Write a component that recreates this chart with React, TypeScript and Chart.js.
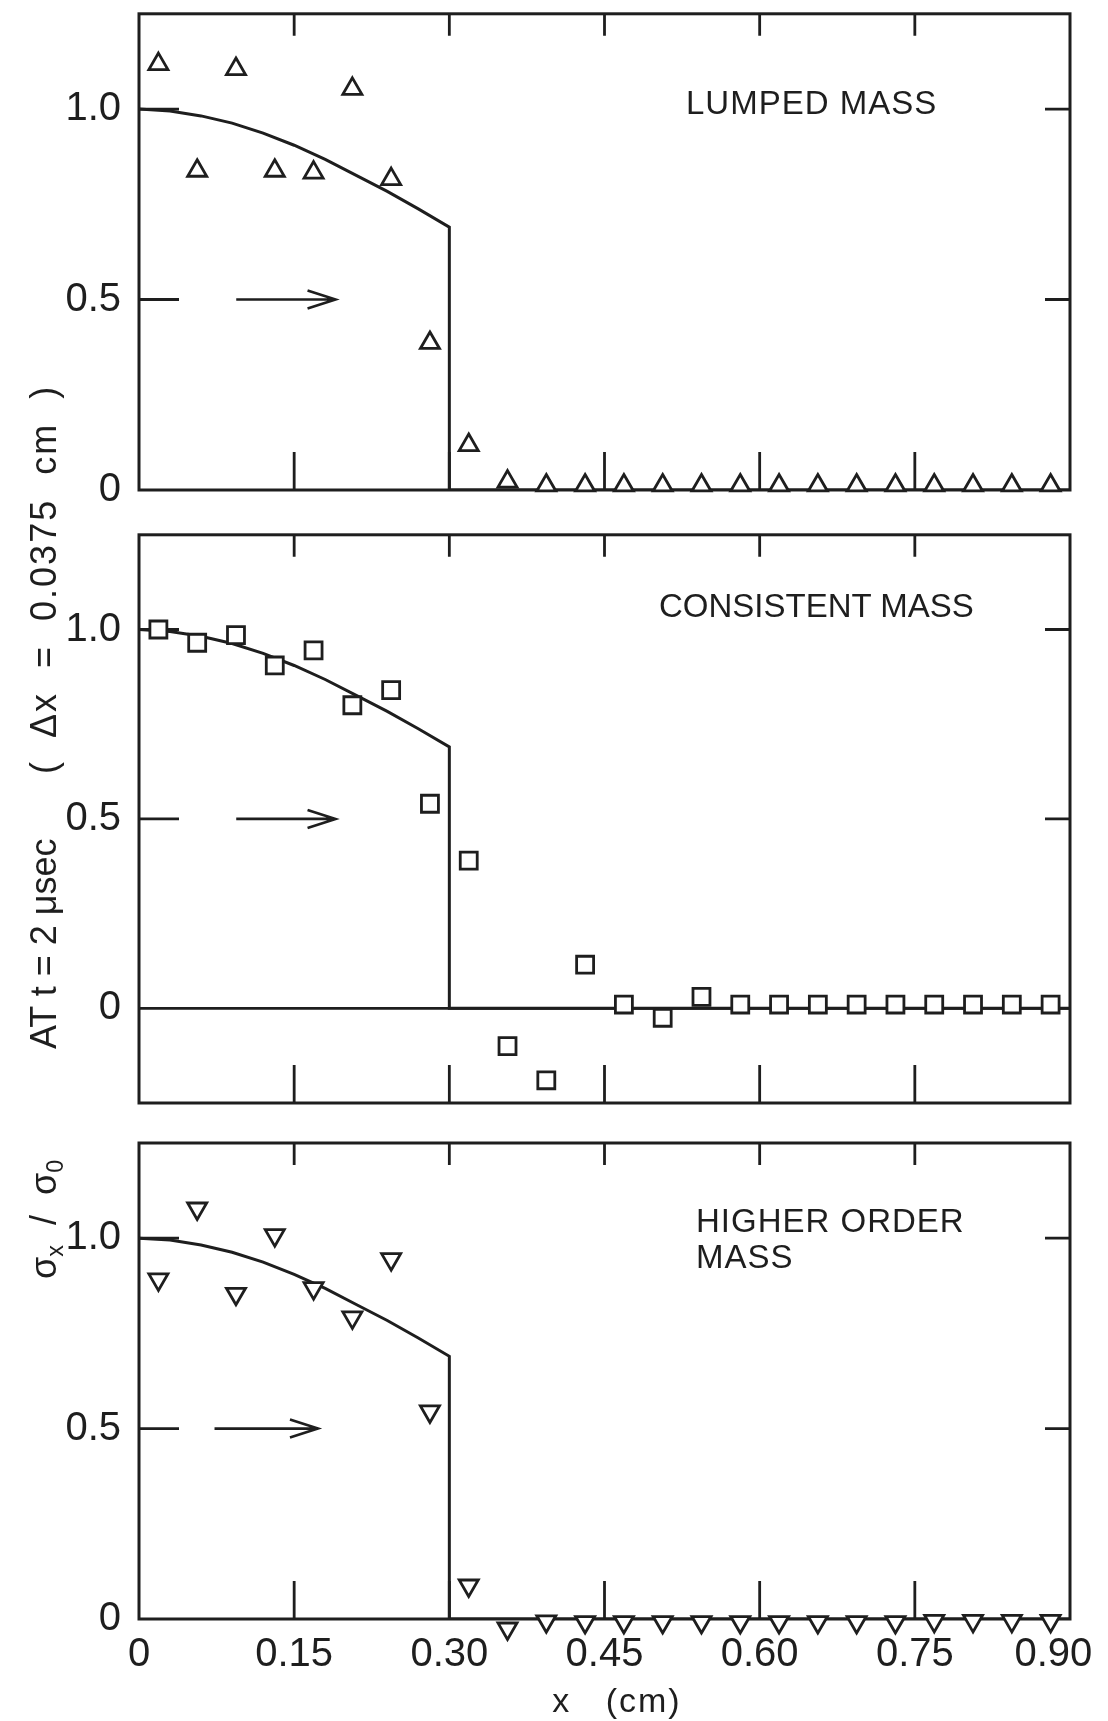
import React, { useEffect, useRef } from 'react';
import { Chart, registerables } from 'chart.js';

Chart.register(...registerables);

// ---------------- data ----------------
const nodeX = [
  0.01875, 0.05625, 0.09375, 0.13125, 0.16875, 0.20625, 0.24375, 0.28125,
  0.31875, 0.35625, 0.39375, 0.43125, 0.46875, 0.50625, 0.54375, 0.58125,
  0.61875, 0.65625, 0.69375, 0.73125, 0.76875, 0.80625, 0.84375, 0.88125,
];

const lumpedMass = [
  1.118, 0.838, 1.105, 0.838, 0.833, 1.053, 0.816, 0.386,
  0.118, 0.022, 0.012, 0.012, 0.012, 0.012, 0.012, 0.012,
  0.012, 0.012, 0.012, 0.012, 0.012, 0.012, 0.012, 0.012,
];

const consistentMass = [
  1.0, 0.965, 0.985, 0.905, 0.945, 0.8, 0.84, 0.54,
  0.39, -0.1, -0.19, 0.115, 0.01, -0.025, 0.03, 0.01,
  0.01, 0.01, 0.01, 0.01, 0.01, 0.01, 0.01, 0.01,
];

const higherOrderMass = [
  0.892, 1.078, 0.854, 1.008, 0.869, 0.792, 0.945, 0.545,
  0.088, -0.025, -0.006, -0.008, -0.008, -0.008, -0.008, -0.008,
  -0.008, -0.008, -0.008, -0.008, -0.005, -0.005, -0.005, -0.005,
];

const exactX = [0, 0.03, 0.06, 0.09, 0.12, 0.15, 0.18, 0.21, 0.24, 0.27, 0.3, 0.3, 0.9];
const exactY = [1.0, 0.995, 0.982, 0.963, 0.937, 0.905, 0.868, 0.826, 0.784, 0.738, 0.69, 0, 0];

const xTickValues = [0, 0.15, 0.3, 0.45, 0.6, 0.75, 0.9];
const xTickLabels = ['0', '0.15', '0.30', '0.45', '0.60', '0.75', '0.90'];
const yTickValues = [0, 0.5, 1.0];
const yTickLabels = ['0', '0.5', '1.0'];
const innerXTicks = [0.15, 0.3, 0.45, 0.6, 0.75];
const innerYTicks = [0.5, 1.0];

const arrowFrom = [0.094, 0.094, 0.073];
const arrowTo = [0.19, 0.19, 0.173];
const arrowLevel = 0.5;

// ---------------- styles ----------------
const INK = '#1e1e1e';
const FONT = "'Liberation Sans', Arial, Helvetica, sans-serif";

type PanelCfg = {
  top: number;
  height: number;
  padTop: number;
  padBottom: number;
  yMin: number;
  yMax: number;
  showX: boolean;
  zeroLine: boolean;
  values: number[];
  pointStyle: string;
  rotation: number;
  radius: number;
  arrow: number;
  name: string;
};

const panels: PanelCfg[] = [
  { top: 0, height: 520, padTop: 9, padBottom: 30, yMin: 0, yMax: 1.25, showX: false, zeroLine: false,
    values: lumpedMass, pointStyle: 'triangle', rotation: 0, radius: 11, arrow: 0, name: 'Lumped mass' },
  { top: 520, height: 600, padTop: 9, padBottom: 17, yMin: -0.25, yMax: 1.25, showX: false, zeroLine: true,
    values: consistentMass, pointStyle: 'rect', rotation: 0, radius: 12, arrow: 1, name: 'Consistent mass' },
  { top: 1120, height: 601, padTop: 23, padBottom: 0, yMin: 0, yMax: 1.25, showX: true, zeroLine: false,
    values: higherOrderMass, pointStyle: 'triangle', rotation: 180, radius: 11, arrow: 2, name: 'Higher order mass' },
];

function makeFramePlugin(cfg: PanelCfg) {
  return {
    id: 'frameTicksArrow',
    beforeDatasetsDraw(chart: any) {
      const { ctx, chartArea: a, scales } = chart;
      const xs = scales.x;
      const ys = scales.y;
      ctx.save();
      ctx.strokeStyle = INK;
      ctx.lineWidth = 3;
      ctx.strokeRect(a.left, a.top, a.right - a.left, a.bottom - a.top);
      ctx.lineWidth = 2.8;
      ctx.beginPath();
      for (const v of innerXTicks) {
        const px = xs.getPixelForValue(v);
        ctx.moveTo(px, a.top);
        ctx.lineTo(px, a.top + 22);
        ctx.moveTo(px, a.bottom);
        ctx.lineTo(px, a.bottom - 38);
      }
      for (const v of innerYTicks) {
        const py = ys.getPixelForValue(v);
        ctx.moveTo(a.left, py);
        ctx.lineTo(a.left + 40, py);
        ctx.moveTo(a.right, py);
        ctx.lineTo(a.right - 25, py);
      }
      if (cfg.zeroLine) {
        const py = ys.getPixelForValue(0);
        ctx.moveTo(a.left, py);
        ctx.lineTo(a.right, py);
      }
      ctx.stroke();
      // arrow
      const x1 = xs.getPixelForValue(arrowFrom[cfg.arrow]);
      const x2 = xs.getPixelForValue(arrowTo[cfg.arrow]);
      const ay = ys.getPixelForValue(arrowLevel);
      ctx.lineWidth = 2.6;
      ctx.beginPath();
      ctx.moveTo(x1, ay);
      ctx.lineTo(x2, ay);
      ctx.moveTo(x2 - 28, ay - 9);
      ctx.lineTo(x2, ay);
      ctx.lineTo(x2 - 28, ay + 9);
      ctx.stroke();
      ctx.restore();
    },
  };
}

function Panel({ cfg }: { cfg: PanelCfg }) {
  const ref = useRef<HTMLCanvasElement | null>(null);
  useEffect(() => {
    if (!ref.current) return;
    const chart = new Chart(ref.current, {
      type: 'scatter',
      data: {
        datasets: [
          {
            label: cfg.name,
            data: nodeX.map((x, i) => ({ x, y: cfg.values[i] })),
            showLine: false,
            pointStyle: cfg.pointStyle as any,
            pointRotation: cfg.rotation,
            pointRadius: cfg.radius,
            pointBorderWidth: 2.8,
            pointBorderColor: INK,
            pointBackgroundColor: '#ffffff',
            clip: false as any,
            order: 0,
          },
          {
            label: 'Exact',
            data: exactX.map((x, i) => ({ x, y: exactY[i] })),
            showLine: true,
            borderColor: INK,
            borderWidth: 3,
            pointRadius: 0,
            tension: 0,
            fill: false,
            order: 1,
          },
        ],
      },
      options: {
        animation: false,
        responsive: false,
        events: [],
        layout: { padding: { top: cfg.padTop, bottom: cfg.padBottom, left: 0, right: 38 } },
        plugins: { legend: { display: false }, tooltip: { enabled: false }, title: { display: false } },
        scales: {
          x: {
            type: 'linear',
            min: 0,
            max: 0.9,
            display: cfg.showX,
            grid: { display: false, drawTicks: false },
            border: { display: false },
            afterBuildTicks: (scale: any) => {
              scale.ticks = xTickValues.map((v) => ({ value: v }));
            },
            afterFit: (scale: any) => {
              scale.height = cfg.showX ? 102 : 0;
              scale.paddingLeft = 0;
              scale.paddingRight = 0;
              scale.paddingTop = 0;
              scale.paddingBottom = 0;
            },
            ticks: {
              autoSkip: false,
              maxRotation: 0,
              minRotation: 0,
              padding: 12,
              color: INK,
              font: { family: FONT, size: 40 },
              callback: (_v: any, i: number) =>
                i === xTickLabels.length - 1 ? xTickLabels[i] + '\u00a0\u00a0\u00a0' : xTickLabels[i],
            },
          },
          y: {
            type: 'linear',
            min: cfg.yMin,
            max: cfg.yMax,
            grid: { display: false, drawTicks: false },
            border: { display: false },
            afterBuildTicks: (scale: any) => {
              scale.ticks = yTickValues.map((v) => ({ value: v }));
            },
            afterFit: (scale: any) => {
              scale.width = 139;
              scale.paddingTop = 0;
              scale.paddingBottom = 0;
              scale.paddingLeft = 0;
              scale.paddingRight = 0;
            },
            ticks: {
              padding: 18,
              color: INK,
              font: { family: FONT, size: 40 },
              callback: (_v: any, i: number) => yTickLabels[i],
            },
          },
        },
      } as any,
      plugins: [makeFramePlugin(cfg)],
    });
    return () => chart.destroy();
  }, [cfg]);
  return (
    <canvas
      ref={ref}
      width={1108}
      height={cfg.height}
      style={{ position: 'absolute', left: 0, top: cfg.top, width: 1108, height: cfg.height }}
    />
  );
}

const titleStyle: React.CSSProperties = {
  position: 'absolute',
  fontFamily: FONT,
  fontSize: 33,
  lineHeight: '33px',
  color: INK,
  whiteSpace: 'nowrap',
  letterSpacing: '1px',
};

const subStyle: React.CSSProperties = { fontSize: '0.65em', verticalAlign: '-0.3em', lineHeight: 0 };

export default function App() {
  return (
    <div
      style={{
        position: 'absolute',
        left: 0,
        top: 0,
        width: 1108,
        height: 1721,
        background: '#ffffff',
        overflow: 'hidden',
      }}
    >
      {panels.map((p, i) => (
        <Panel key={i} cfg={p} />
      ))}
      <div style={{ ...titleStyle, left: 686, top: 86 }}>LUMPED MASS</div>
      <div style={{ ...titleStyle, left: 659, top: 589, letterSpacing: '0px' }}>CONSISTENT MASS</div>
      <div style={{ ...titleStyle, left: 696, top: 1204 }}>HIGHER ORDER</div>
      <div style={{ ...titleStyle, left: 696, top: 1240 }}>MASS</div>
      <div
        style={{
          position: 'absolute',
          left: 617 - 100,
          top: 1700 - 20,
          width: 200,
          textAlign: 'center',
          fontFamily: FONT,
          fontSize: 34,
          lineHeight: '40px',
          color: INK,
          whiteSpace: 'pre',
          letterSpacing: '2px',
        }}
      >
        {'x   (cm)'}
      </div>
      <div
        style={{
          position: 'absolute',
          left: 44 - 500,
          top: 826 - 25,
          width: 1000,
          height: 50,
          transform: 'rotate(-90deg)',
          transformOrigin: '50% 50%',
          fontFamily: FONT,
          fontSize: 36,
          lineHeight: '50px',
          color: INK,
          whiteSpace: 'pre',
        }}
      >
        <span style={{ position: 'absolute', left: 47, top: 0 }}>
          σ<span style={subStyle}>x</span>
          {'  /  '}σ<span style={subStyle}>0</span>
        </span>
        <span style={{ position: 'absolute', left: 277, top: 0 }}>AT t = 2 μsec</span>
        <span style={{ position: 'absolute', left: 552, top: 0, wordSpacing: '12px', letterSpacing: '2px' }}>
          ( Δx = 0.0375 cm )
        </span>
      </div>
    </div>
  );
}
